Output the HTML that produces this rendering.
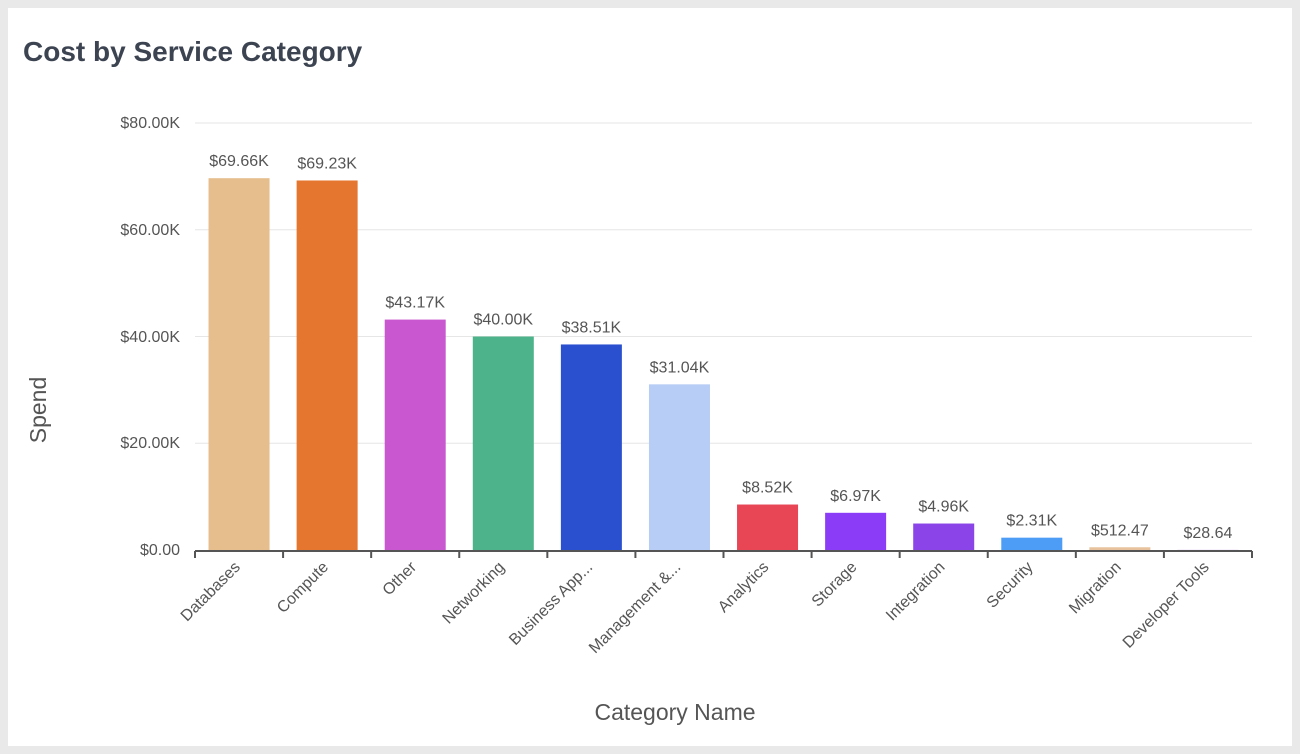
<!DOCTYPE html>
<html><head><meta charset="utf-8"><style>
html,body{margin:0;padding:0;background:#e9e9ea;width:1300px;height:754px;overflow:hidden}
.card{position:absolute;left:8px;top:8px;width:1284px;height:738px;background:#fff}
svg{position:absolute;left:0;top:0}
</style></head><body>
<div class="card"></div>
<svg width="1300" height="754" font-family="Liberation Sans, sans-serif">
<text x="23" y="61" font-size="28" font-weight="bold" fill="#3d4451">Cost by Service Category</text>
<g stroke="#e6e6e6" stroke-width="1">
<line x1="195" x2="1252" y1="123" y2="123"/>
<line x1="195" x2="1252" y1="229.75" y2="229.75"/>
<line x1="195" x2="1252" y1="336.5" y2="336.5"/>
<line x1="195" x2="1252" y1="443.25" y2="443.25"/>
</g>
<g font-size="16" fill="#555" text-anchor="end">
<text x="180" y="128">$80.00K</text>
<text x="180" y="235">$60.00K</text>
<text x="180" y="342">$40.00K</text>
<text x="180" y="448">$20.00K</text>
<text x="180" y="555">$0.00</text>
</g>
<text transform="translate(46,410) rotate(-90)" font-size="23" fill="#555" text-anchor="middle">Spend</text>
<text x="675" y="720" font-size="23" fill="#555" text-anchor="middle">Category Name</text>
<g id="bars"></g>
<line x1="195" x2="1252" y1="551" y2="551" stroke="#555" stroke-width="2"/>
<g stroke="#555" stroke-width="2" id="ticks"></g>
<g id="labels" font-size="16" fill="#555"></g>
</svg>
<script>
var d=[["Databases",69.66,"$69.66K","#e6bd8c"],["Compute",69.23,"$69.23K","#e5762f"],["Other",43.17,"$43.17K","#c957cf"],["Networking",40.00,"$40.00K","#4db38a"],["Business App...",38.51,"$38.51K","#2a50cf"],["Management &...",31.04,"$31.04K","#b8cdf5"],["Analytics",8.52,"$8.52K","#e84555"],["Storage",6.97,"$6.97K","#8b3cf7"],["Integration",4.96,"$4.96K","#8a44e8"],["Security",2.31,"$2.31K","#4d9cf5"],["Migration",0.51247,"$512.47","#e8c29c"],["Developer Tools",0.02864,"$28.64","#c9a0f0"]];
var ns="http://www.w3.org/2000/svg",b=document.getElementById("bars"),t=document.getElementById("ticks"),l=document.getElementById("labels");
var slot=(1252-195)/12;
function el(tag,a,p,txt){var e=document.createElementNS(ns,tag);for(var k in a)e.setAttribute(k,a[k]);if(txt)e.textContent=txt;p.appendChild(e);return e;}
for(var i=0;i<=12;i++){var x=195+i*slot;el("line",{x1:x,x2:x,y1:551,y2:558},t);}
d.forEach(function(r,i){var cx=195+slot*(i+0.5);var h=r[1]*427/80;var top=550-h;
el("rect",{x:cx-30.5,y:top,width:61,height:Math.max(h,0.5),fill:r[3]},b);
el("text",{x:cx,y:top-12,"text-anchor":"middle"},l,r[2]);
el("text",{x:0,y:0,"text-anchor":"end",transform:"translate("+(cx+2)+",568) rotate(-45)"},l,r[0]);});
</script>
</body></html>
